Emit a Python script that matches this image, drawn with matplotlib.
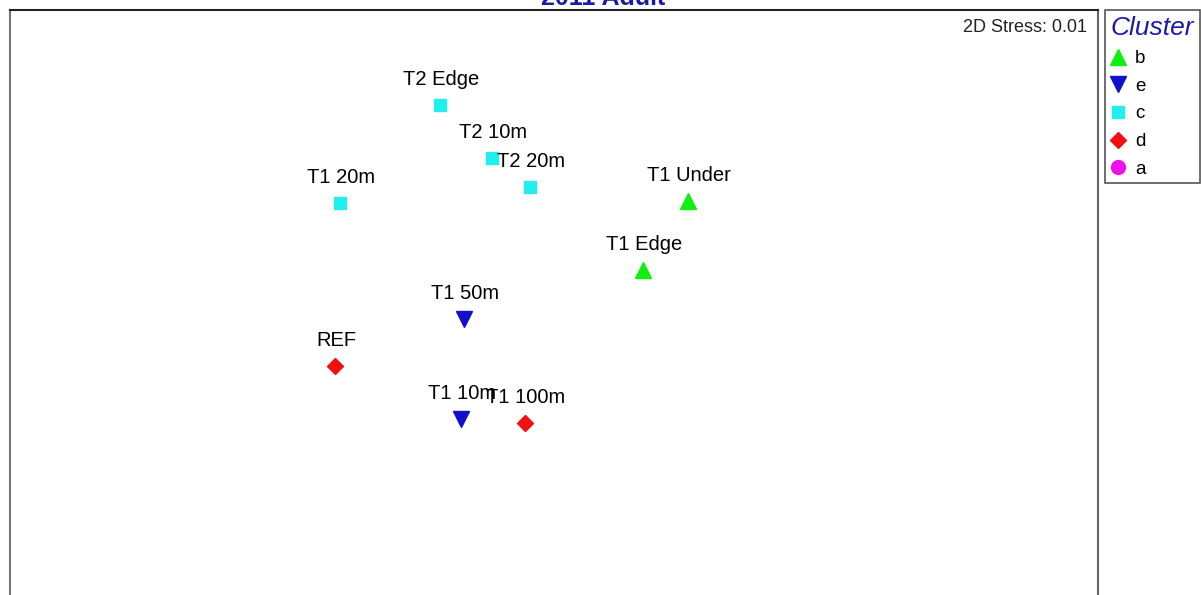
import matplotlib.pyplot as plt
from matplotlib.lines import Line2D

plt.rcParams['font.family'] = ['Liberation Sans', 'DejaVu Sans']

# ordination points (screen-like units, y grows downward)
labels = ['T2 Edge', 'T2 10m', 'T2 20m', 'T1 20m', 'T1 Under', 'T1 Edge',
          'T1 50m', 'REF', 'T1 10m', 'T1 100m']
x = [440, 492, 530, 340, 688, 643, 464, 335, 461, 525]
y = [105, 158, 187, 203, 201, 270, 319, 366, 419, 423]
cluster = ['c', 'c', 'c', 'c', 'b', 'b', 'e', 'd', 'e', 'd']

legend_order = ['b', 'e', 'c', 'd', 'a']
styles = {
    'b': ('^', '#11ee11', 11),
    'e': ('v', '#1111cc', 11),
    'c': ('s', '#22eeee', 9),
    'd': ('D', '#ee1111', 8.5),
    'a': ('o', '#ee11ee', 10),
}

fig = plt.figure(figsize=(12.01, 5.95), dpi=100)
W, H = 1201, 595
ax = fig.add_axes([10 / W, -0.05, (1098 - 10) / W, 1 - 10 / H + 0.05])
ax.set_xlim(10, 1098)
ax.set_ylim(595 + 0.05 * H, 10)

for xi, yi, lab, cl in zip(x, y, labels, cluster):
    m, c, ms = styles[cl]
    ax.plot(xi, yi, marker=m, color=c, markersize=ms, linestyle='none')
    ax.text(xi + 1, yi - 16, lab, ha='center', va='bottom', fontsize=14.5)

ax.text(0.99, 0.985, '2D Stress: 0.01', transform=ax.transAxes, ha='right',
        va='top', fontsize=13, color='#222222')

ax.set_xticks([])
ax.set_yticks([])
ax.spines['bottom'].set_visible(False)
ax.spines['top'].set_color('#222222')
ax.spines['left'].set_color('#777777')
ax.spines['right'].set_color('#666666')
for s in ax.spines.values():
    s.set_linewidth(1.5)

# title sits mostly above the top edge, as in the source image
fig.text(603 / W, 1 - 5 / H, '2011 Adult', ha='center', va='baseline',
         fontsize=18, fontweight='bold', color='#1a1aaa')

handles = [Line2D([], [], marker=styles[k][0], color=styles[k][1],
                  markersize=styles[k][2], linestyle='none') for k in legend_order]
leg = fig.legend(handles, legend_order, loc='upper left',
                 bbox_to_anchor=(1105 / W, 1 - 10 / H), fontsize=13.5,
                 title='Cluster', alignment='left', fancybox=False,
                 handlelength=0.8, handletextpad=0.5, labelspacing=0.56,
                 borderpad=0.3, borderaxespad=0, framealpha=1,
                 title_fontproperties={'size': 19, 'style': 'italic'})
leg.get_title().set_color('#1a1aaa')
leg.get_frame().set_edgecolor('#555555')
leg.get_frame().set_linewidth(1.2)

fig.savefig('out.png', dpi=100)
